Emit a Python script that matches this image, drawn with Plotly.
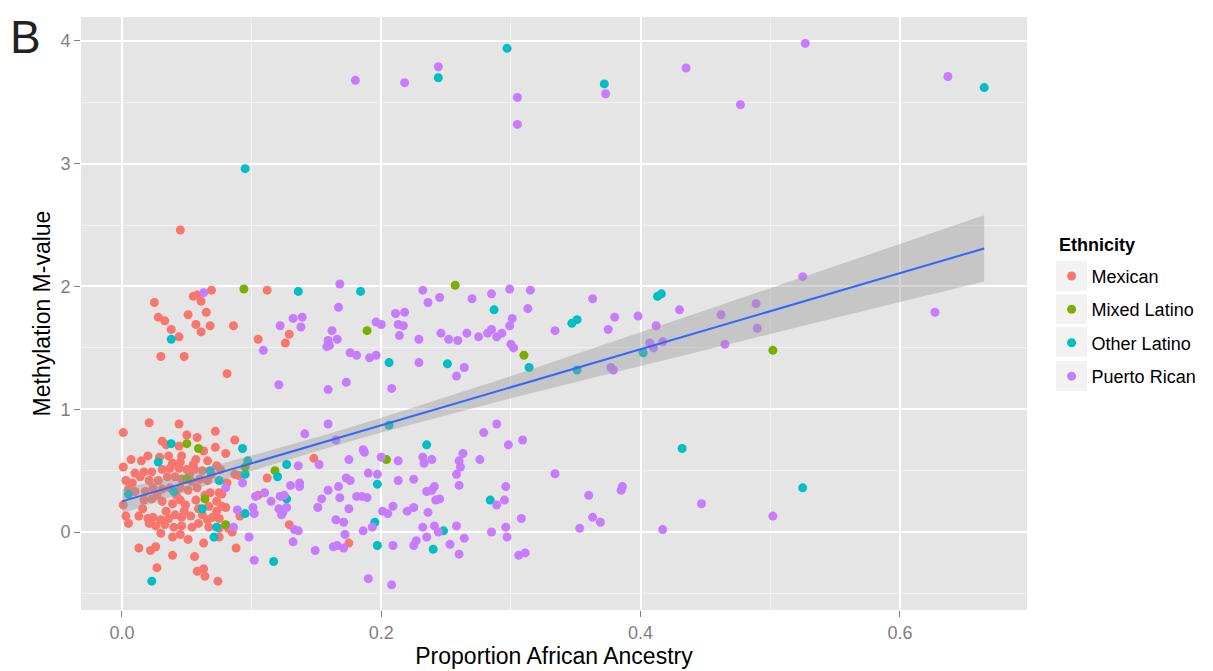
import plotly.graph_objects as go

# ---------------- data ----------------
mex_x = [0.045, 0.025, 0.055, 0.058, 0.069, 0.112, 0.061, 0.028, 0.033, 0.051, 0.065,
         0.057, 0.068, 0.061, 0.038, 0.044, 0.086, 0.129, 0.126, 0.105, 0.030, 0.048, 0.081,
         0.148, 0.129, 0.175,
         0.021, 0.044, 0.001, 0.050, 0.058, 0.072, 0.087, 0.031, 0.034, 0.044, 0.063, 0.072, 0.080,
         0.020, 0.015, 0.007, 0.029, 0.036, 0.046, 0.039, 0.045, 0.057, 0.066, 0.001,
         0.017, 0.023, 0.031, 0.037, 0.044, 0.050, 0.056, 0.062, 0.073, 0.076, 0.069, 0.087,
         0.090, 0.112, 0.003, 0.014, 0.021, 0.028, 0.035, 0.041, 0.046, 0.054, 0.060, 0.066, 0.081,
         0.005, 0.010, 0.018, 0.024, 0.031, 0.037, 0.045, 0.051, 0.058, 0.068, 0.075, 0.077,
         0.001, 0.017, 0.023, 0.031, 0.039, 0.045, 0.049, 0.057, 0.059, 0.067, 0.073, 0.077,
         0.105, 0.091, 0.003, 0.005,
         0.013, 0.020, 0.024, 0.030, 0.036, 0.041, 0.046, 0.053, 0.062, 0.066, 0.073, 0.075,
         0.021, 0.026, 0.033, 0.040, 0.046, 0.054, 0.059, 0.067, 0.075, 0.082,
         0.085, 0.030, 0.039, 0.045, 0.051, 0.063, 0.075,
         0.088, 0.013, 0.022, 0.026, 0.039, 0.056,
         0.027, 0.058, 0.063, 0.064, 0.074,
         0.010, 0.027, 0.042, 0.052, 0.064, 0.070, 0.034, 0.048, 0.016, 0.055, 0.080, 0.008]
mex_y = [2.46, 1.87, 1.92, 1.93, 1.97, 1.97, 1.88, 1.75, 1.72, 1.77, 1.79,
         1.69, 1.68, 1.63, 1.65, 1.59, 1.68, 1.61, 1.54, 1.57, 1.43, 1.43, 1.29,
         0.60, 0.06, -0.09,
         0.89, 0.88, 0.81, 0.79, 0.77, 0.82, 0.75, 0.74, 0.71, 0.70, 0.66, 0.69, 0.64,
         0.62, 0.58, 0.59, 0.61, 0.62, 0.62, 0.56, 0.57, 0.59, 0.58, 0.53,
         0.49, 0.49, 0.51, 0.52, 0.52, 0.51, 0.51, 0.50, 0.54, 0.51, 0.47, 0.47,
         0.46, 0.44, 0.42, 0.45, 0.42, 0.42, 0.45, 0.45, 0.43, 0.41, 0.43, 0.42, 0.40,
         0.35, 0.33, 0.33, 0.36, 0.35, 0.36, 0.36, 0.34, 0.36, 0.32, 0.32, 0.31,
         0.22, 0.26, 0.27, 0.25, 0.23, 0.26, 0.22, 0.26, 0.19, 0.21, 0.25, 0.21,
         0.30, 0.13, 0.13, 0.07,
         0.13, 0.11, 0.12, 0.10, 0.11, 0.14, 0.12, 0.13, 0.14, 0.10, 0.17, 0.11,
         0.07, 0.05, 0.06, 0.04, 0.05, 0.04, 0.07, 0.04, 0.03, 0.03,
         0.00, -0.01, -0.04, -0.02, -0.06, -0.09, -0.04,
         -0.13, -0.13, -0.15, -0.12, -0.19, -0.20,
         -0.29, -0.32, -0.30, -0.36, -0.40,
         0.48, 0.30, 0.30, 0.47, 0.30, 0.12, 0.17, 0.17, 0.19, 0.55, 0.20, 0.40]

mix_x = [0.094, 0.257, 0.189, 0.310, 0.502, 0.204, 0.050, 0.059, 0.095, 0.118, 0.050, 0.064, 0.080]
mix_y = [1.98, 2.01, 1.64, 1.44, 1.48, 0.59, 0.72, 0.68, 0.53, 0.50, 0.43, 0.27, 0.06]

oth_x = [0.244, 0.297, 0.372, 0.665, 0.095,
         0.136, 0.184, 0.038, 0.287, 0.347, 0.351, 0.413, 0.416,
         0.206, 0.251, 0.314, 0.351, 0.402,
         0.206, 0.235, 0.432, 0.127, 0.127, 0.197, 0.284, 0.525,
         0.195, 0.248, 0.197, 0.240, 0.117, 0.023,
         0.038, 0.093, 0.028, 0.097, 0.095, 0.068, 0.120, 0.075, 0.005, 0.040, 0.062, 0.095,
         0.073, 0.071]
oth_y = [3.70, 3.94, 3.65, 3.62, 2.96,
         1.96, 1.96, 1.57, 1.81, 1.70, 1.73, 1.92, 1.94,
         1.38, 1.37, 1.34, 1.32, 1.46,
         0.87, 0.71, 0.68, 0.55, 0.27, 0.39, 0.26, 0.36,
         0.08, 0.01, -0.11, -0.14, -0.24, -0.40,
         0.72, 0.68, 0.57, 0.58, 0.47, 0.50, 0.45, 0.42, 0.31, 0.33, 0.19, 0.15,
         0.04, -0.04]

pr_x = [0.180, 0.218, 0.244, 0.305, 0.305, 0.373, 0.435, 0.477, 0.527, 0.637,
        0.063, 0.122, 0.132, 0.139, 0.138, 0.109, 0.121, 0.159,
        0.168, 0.232, 0.299, 0.315, 0.236, 0.245, 0.270, 0.285, 0.313, 0.167, 0.211, 0.218,
        0.162, 0.159, 0.166, 0.158, 0.160,
        0.196, 0.200, 0.213, 0.217, 0.214, 0.229, 0.246, 0.252, 0.259, 0.266, 0.275,
        0.282, 0.285, 0.289, 0.293, 0.299, 0.301, 0.300, 0.302, 0.334,
        0.176, 0.181, 0.191, 0.196, 0.229, 0.264, 0.258, 0.173, 0.208,
        0.363, 0.375, 0.380, 0.398, 0.430, 0.412, 0.407, 0.410, 0.417,
        0.462, 0.489, 0.490, 0.465, 0.525, 0.377, 0.379, 0.627,
        0.309, 0.334, 0.386, 0.385, 0.360, 0.447, 0.502, 0.363, 0.369, 0.353, 0.417, 0.308, 0.311, 0.306,
        0.159, 0.141, 0.165, 0.279, 0.289, 0.298,
        0.186, 0.187, 0.152, 0.136, 0.175, 0.200, 0.213, 0.232, 0.239, 0.233, 0.263, 0.260, 0.261,
        0.276, 0.258, 0.190, 0.197,
        0.173, 0.176, 0.167, 0.159, 0.137, 0.137, 0.130, 0.213, 0.225, 0.235, 0.239, 0.241, 0.242,
        0.245, 0.260, 0.296, 0.295, 0.289,
        0.154, 0.151, 0.168, 0.181, 0.185, 0.189, 0.175, 0.201, 0.205, 0.209, 0.220, 0.225, 0.236,
        0.165, 0.171, 0.186, 0.193, 0.172, 0.232, 0.241, 0.244, 0.235, 0.258, 0.264, 0.296, 0.297, 0.285,
        0.133, 0.136, 0.132, 0.149, 0.163, 0.166, 0.171, 0.209, 0.225, 0.227, 0.253, 0.260, 0.190, 0.208,
        0.125, 0.122, 0.127, 0.124,
        0.080, 0.093, 0.089, 0.101, 0.103, 0.110, 0.115, 0.121, 0.123, 0.102, 0.086, 0.098, 0.102]
pr_y = [3.68, 3.66, 3.79, 3.54, 3.32, 3.57, 3.78, 3.48, 3.98, 3.71,
        1.95, 1.68, 1.74, 1.75, 1.67, 1.48, 1.20, 1.16,
        2.02, 1.97, 1.98, 1.97, 1.87, 1.91, 1.90, 1.94, 1.82, 1.83, 1.78, 1.79,
        1.64, 1.56, 1.57, 1.51, 1.52,
        1.71, 1.69, 1.69, 1.68, 1.60, 1.57, 1.62, 1.57, 1.56, 1.62, 1.59,
        1.62, 1.65, 1.59, 1.62, 1.68, 1.74, 1.53, 1.50, 1.64,
        1.46, 1.44, 1.42, 1.44, 1.38, 1.34, 1.27, 1.22, 1.17,
        1.90, 1.65, 1.75, 1.76, 1.81, 1.68, 1.54, 1.50, 1.55,
        1.77, 1.86, 1.66, 1.53, 2.08, 1.34, 1.32, 1.79,
        0.75, 0.475, 0.37, 0.34, 0.30, 0.23, 0.13, 0.12, 0.08, 0.03, 0.02, 0.11, -0.17, -0.19,
        0.88, 0.80, 0.75, 0.81, 0.88, 0.71,
        0.67, 0.65, 0.55, 0.54, 0.59, 0.61, 0.58, 0.61, 0.59, 0.56, 0.64, 0.58, 0.53,
        0.59, 0.47, 0.48, 0.47,
        0.44, 0.42, 0.37, 0.34, 0.40, 0.37, 0.38, 0.42, 0.43, 0.33, 0.34, 0.37, 0.26,
        0.27, 0.38, 0.37, 0.26, 0.22,
        0.27, 0.20, 0.28, 0.29, 0.29, 0.28, 0.19, 0.17, 0.15, 0.21, 0.17, 0.20, 0.16,
        0.10, 0.08, 0.01, 0.04, -0.02, 0.04, 0.05, 0.00, -0.04, 0.05, -0.05, 0.04, -0.04, 0.00,
        0.02, 0.01, -0.08, -0.15, -0.12, -0.11, -0.13, -0.11, -0.11, -0.07, -0.10, -0.18, -0.38, -0.43,
        0.30, 0.29, 0.20, 0.16,
        0.36, 0.40, 0.18, 0.20, 0.29, 0.32, 0.25, 0.19, 0.14, 0.15, 0.04, -0.04, -0.23]

# linear fit and its 95% confidence band
fit_x = [0.0, 0.05, 0.1, 0.159, 0.2, 0.3, 0.4, 0.5, 0.6, 0.665]
fit_y = [0.25, 0.405, 0.56, 0.743, 0.87, 1.18, 1.49, 1.80, 2.11, 2.31]
fit_lo = [0.15, 0.33, 0.497, 0.687, 0.81, 1.09, 1.353, 1.615, 1.873, 2.04]
fit_hi = [0.35, 0.48, 0.623, 0.799, 0.93, 1.27, 1.627, 1.985, 2.347, 2.58]

groups = ["Mexican", "Mixed Latino", "Other Latino", "Puerto Rican"]
colors = ["#F8766D", "#7CAE00", "#00BFC4", "#C77CFF"]
series = [(mex_x, mex_y), (mix_x, mix_y), (oth_x, oth_y), (pr_x, pr_y)]

FONT = "Liberation Sans, Arial, Helvetica, sans-serif"

# ---------------- figure ----------------
fig = go.Figure()

for name, col, (xs, ys) in zip(groups, colors, series):
    fig.add_trace(go.Scatter(
        x=xs, y=ys, mode="markers", name=name, legendgroup=name,
        marker=dict(color=col, size=9, line=dict(width=0)),
    ))

fig.add_trace(go.Scatter(x=fit_x, y=fit_hi, mode="lines", line=dict(width=0),
                         hoverinfo="skip", showlegend=False))
fig.add_trace(go.Scatter(x=fit_x, y=fit_lo, mode="lines", line=dict(width=0),
                         fill="tonexty", fillcolor="rgba(153,153,153,0.4)",
                         hoverinfo="skip", showlegend=False))
fig.add_trace(go.Scatter(x=fit_x, y=fit_y, mode="lines",
                         line=dict(color="#3366FF", width=2),
                         hoverinfo="skip", showlegend=False))

axis_common = dict(
    showgrid=True, gridcolor="white", gridwidth=2, zeroline=False,
    showline=False, ticks="outside", ticklen=6, tickwidth=1, tickcolor="#7F7F7F",
    tickfont=dict(family=FONT, size=18, color="#7F7F7F"),
    title_font=dict(family=FONT, size=23, color="black"),
)

fig.update_xaxes(
    range=[-0.0316, 0.698], tickmode="linear", tick0=0, dtick=0.2, tickformat=".1f",
    minor=dict(tick0=0, dtick=0.1, showgrid=True, gridcolor="#F2F2F2", gridwidth=1, ticks=""),
    title_text="Proportion African Ancestry", title_standoff=2,
    **axis_common,
)
fig.update_yaxes(
    range=[-0.635, 4.195], tickmode="linear", tick0=0, dtick=1,
    minor=dict(tick0=0, dtick=0.5, showgrid=True, gridcolor="#F2F2F2", gridwidth=1, ticks=""),
    title_text="Methylation M-value", title_standoff=3,
    **axis_common,
)

# grey legend key backgrounds (ggplot style), positioned relative to the panel
key_rows = [(261, 291), (294, 324), (327, 357), (361, 391)]
shapes = []
for top, bot in key_rows:
    shapes.append(dict(type="rect", xref="paper", yref="paper",
                       x0=(1056 - 81) / 946, x1=(1087 - 81) / 946,
                       y0=(610 - bot) / 593, y1=(610 - top) / 593,
                       fillcolor="#F2F2F2", line=dict(width=0), layer="above"))

fig.update_layout(
    width=1205, height=663,
    margin=dict(l=73, r=186, t=9, b=61),
    paper_bgcolor="white", plot_bgcolor="#E5E5E5",
    font=dict(family=FONT, color="black"),
    showlegend=True,
    legend=dict(
        x=1.026, y=0.594, xanchor="left", yanchor="top",
        font=dict(family=FONT, size=18, color="black"),
        tracegroupgap=7, itemsizing="trace",
        bgcolor="rgba(0,0,0,0)",
    ),
    shapes=shapes,
    annotations=[
        dict(text="B", xref="paper", yref="paper", x=-0.077, y=1.014,
             xanchor="left", yanchor="top", showarrow=False,
             font=dict(size=46, color="#222222", family=FONT)),
        dict(text="<b>Ethnicity</b>", xref="paper", yref="paper",
             x=(1057 - 81) / 946, y=(610 - 245) / 593,
             xanchor="left", yanchor="middle", showarrow=False,
             font=dict(size=18, color="black", family=FONT)),
    ],
)

fig.write_html("out.html")
